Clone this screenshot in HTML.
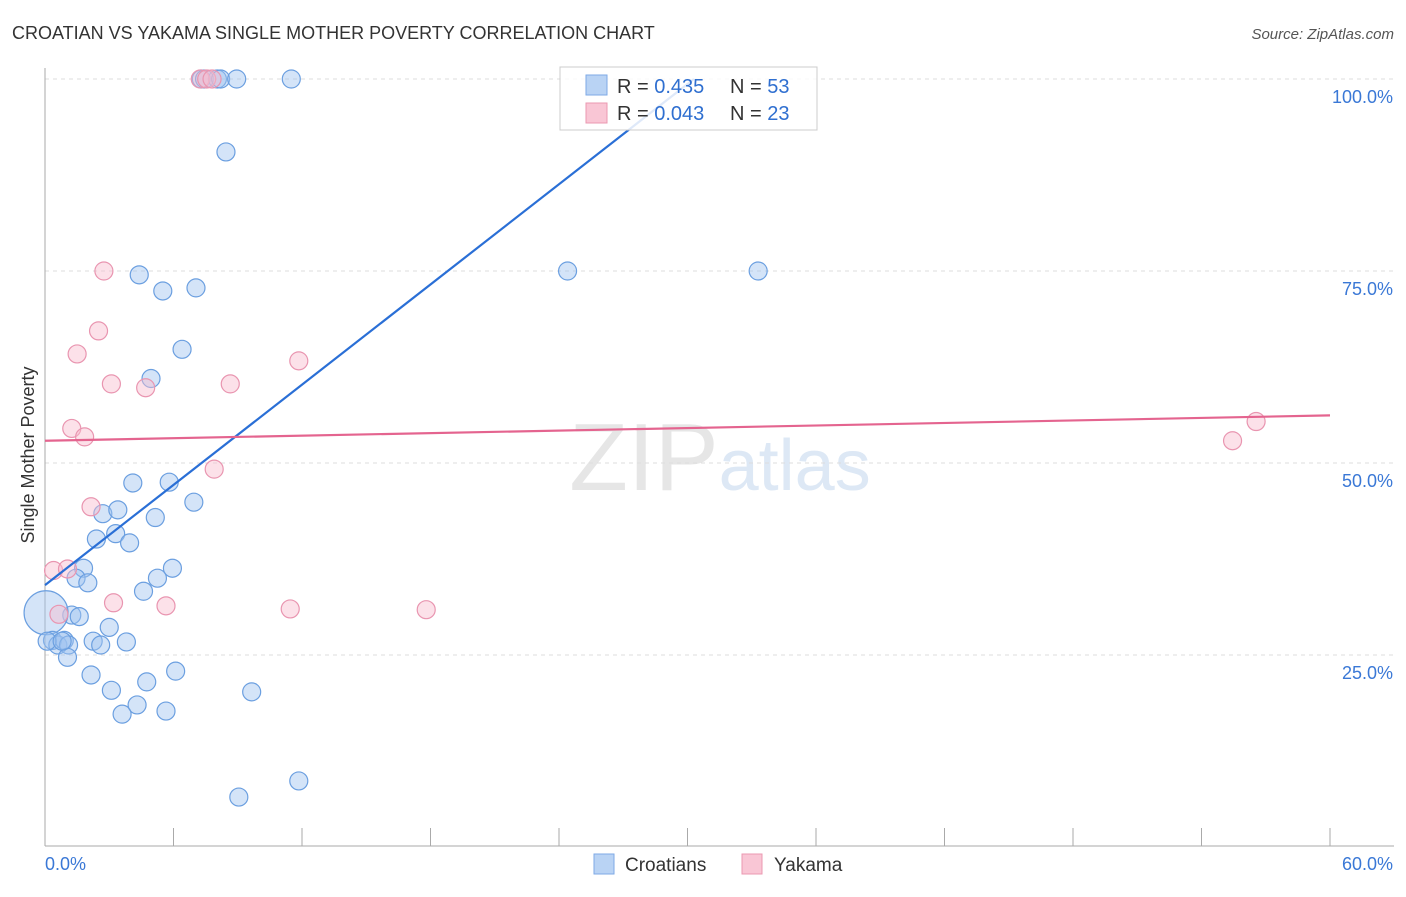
<!DOCTYPE html>
<html><head><meta charset="utf-8"><style>
body{margin:0;background:#fff;font-family:"Liberation Sans",sans-serif;}
svg text{font-family:"Liberation Sans",sans-serif;}
</style></head><body>
<svg id="c" width="1406" height="892" xmlns="http://www.w3.org/2000/svg">
<text x="12" y="39" font-size="18" fill="#333">CROATIAN VS YAKAMA SINGLE MOTHER POVERTY CORRELATION CHART</text>
<text x="1394" y="39" font-size="15" fill="#555" font-style="italic" text-anchor="end">Source: ZipAtlas.com</text>
<text x="720" y="490" font-size="96" fill="#e6e6e6" text-anchor="middle" font-family="Liberation Serif"><tspan>ZIP</tspan><tspan fill="#dde8f5" font-family="Liberation Sans" font-size="72">atlas</tspan></text>
<g id="grid"></g>
<g id="axes"></g>
<g id="pts"></g>
<g id="trend"></g>
<text transform="translate(34,455) rotate(-90)" font-size="18" fill="#333" text-anchor="middle">Single Mother Poverty</text>
<g>
<rect x="560" y="67" width="257" height="63" fill="rgba(255,255,255,0.85)" stroke="#ccc"/>
<rect x="586" y="75" width="21" height="20" fill="#b9d3f4" stroke="#7ea9e6"/>
<rect x="586" y="103" width="21" height="20" fill="#f9c6d5" stroke="#eb98b1"/>
<text x="617" y="93" font-size="20" fill="#333">R = <tspan fill="#2f6fd0">0.435</tspan><tspan x="730">N = </tspan><tspan fill="#2f6fd0">53</tspan></text>
<text x="617" y="120" font-size="20" fill="#333">R = <tspan fill="#2f6fd0">0.043</tspan><tspan x="730">N = </tspan><tspan fill="#2f6fd0">23</tspan></text>
</g>
<g>
<rect x="594" y="854" width="20" height="20" fill="#b9d3f4" stroke="#7ea9e6"/>
<text x="625" y="871" font-size="19" fill="#333">Croatians</text>
<rect x="742" y="854" width="20" height="20" fill="#f9c6d5" stroke="#eb98b1"/>
<text x="774" y="871" font-size="19" fill="#333">Yakama</text>
</g>
</svg>
<script>
const yTicks=[25,50,75,100];
const yTickLabels=["25.0%","50.0%","75.0%","100.0%"];
const xLabels=["0.0%","60.0%"];
const croatX=[7.3,7.45,8.05,8.2,8.95,11.5,8.45,24.4,33.3,4.4,5.5,7.05,6.4,4.95,4.1,5.8,6.95,2.7,3.4,5.15,2.4,3.3,3.95,1.8,5.95,1.45,2.0,5.25,4.6,1.25,1.6,3.0,0.05,0.35,0.6,0.9,1.1,2.25,2.6,3.8,1.05,2.15,6.1,3.1,4.75,9.65,4.3,5.65,3.6,11.85,9.05,0.1,0.8];
const croatY=[100,100,100,100,100,100,90.5,75,75,74.5,72.4,72.8,64.8,61,47.4,47.5,44.9,43.4,43.9,42.9,40.1,40.8,39.6,36.3,36.3,35,34.4,35,33.3,30.2,30,28.6,30.5,26.9,26.3,26.9,26.3,26.8,26.3,26.7,24.7,22.4,22.9,20.4,21.5,20.2,18.5,17.7,17.3,8.6,6.5,26.8,26.8];
const yakX=[7.25,7.55,7.8,2.75,2.5,1.5,11.85,3.1,4.7,8.65,1.25,1.85,7.9,2.15,0.4,1.05,3.2,5.65,11.45,17.8,0.65,56.55,55.45];
const yakY=[100,100,100,75,67.2,64.2,63.3,60.3,59.8,60.3,54.5,53.4,49.2,44.3,36,36.2,31.8,31.4,31,30.9,30.3,55.4,52.9];
const blueTrend=[0,34.1,30.3,100];
const pinkTrend=[0,52.9,60,56.2];
const NS="http://www.w3.org/2000/svg";
const X=v=>45+v/60*1285, Y=v=>847-v/100*768;
function mk(t,a,p){const e=document.createElementNS(NS,t);for(const k in a)e.setAttribute(k,a[k]);document.getElementById(p).appendChild(e);return e;}
yTicks.forEach((t,i)=>{
 const g=mk('line',{x1:45,x2:1394,y1:Y(t),y2:Y(t),stroke:'#ddd','stroke-dasharray':'4,4'},'grid');
 
 
 const l=mk('text',{x:1393,y:Y(t)+24,'font-size':18,fill:'#3a78d6','text-anchor':'end'},'axes');
 l.textContent=yTickLabels[i];
 
 
});
const ya=mk('line',{x1:45,x2:45,y1:68,y2:846,stroke:'#aaa'},'axes');


const xa=mk('line',{x1:45,x2:1394,y1:846,y2:846,stroke:'#aaa'},'axes');


for(let i=1;i<=10;i++){const t=mk('line',{x1:X(i*6),x2:X(i*6),y1:828,y2:846,stroke:'#aaa'},'axes');
 
 }
[[xLabels[0],45,'start'],[xLabels[1],1393,'end']].forEach(([s,x,a])=>{
 const t=mk('text',{x:x,y:870,'font-size':18,fill:'#3a78d6','text-anchor':a},'axes');t.textContent=s;
 
 });
croatX.forEach((v,i)=>{
 const r=(i==32)?22:9;
 const c=mk('circle',{cx:X(v),cy:Y(croatY[i]),r:r,fill:'rgba(160,196,240,0.45)',stroke:'#6b9fe0','stroke-width':1.2},'pts');
 
 
});
yakX.forEach((v,i)=>{
 const c=mk('circle',{cx:X(v),cy:Y(yakY[i]),r:9,fill:'rgba(248,188,207,0.45)',stroke:'#e995b0','stroke-width':1.2},'pts');
 
 
});
const bl=mk('line',{x1:X(blueTrend[0]),y1:Y(blueTrend[1]),x2:X(blueTrend[2]),y2:Y(blueTrend[3]),stroke:'#2a6fd6','stroke-width':2.2},'trend');


const pl=mk('line',{x1:X(pinkTrend[0]),y1:Y(pinkTrend[1]),x2:X(pinkTrend[2]),y2:Y(pinkTrend[3]),stroke:'#e4648f','stroke-width':2.2},'trend');


</script>
</body></html>
